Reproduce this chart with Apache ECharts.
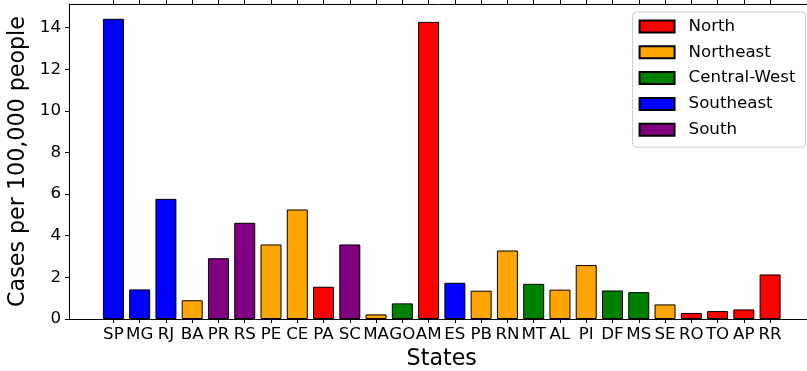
<!DOCTYPE html>
<html>
<head>
<meta charset="utf-8">
<title>Cases per 100,000 people by state</title>
<script src="https://cdn.jsdelivr.net/npm/echarts@6/dist/echarts.min.js"></script>
<style>
  html, body { margin: 0; padding: 0; background: #fff; }
  #chart { width: 807px; height: 371px; }
</style>
</head>
<body>
<div id="chart"></div>
<script>
// States in plotting order
const states = ['SP','MG','RJ','BA','PR','RS','PE','CE','PA','SC','MA','GO','AM',
                'ES','PB','RN','MT','AL','PI','DF','MS','SE','RO','TO','AP','RR'];
// Region of each state
const stateRegion = ['Southeast','Southeast','Southeast','Northeast','South','South',
                     'Northeast','Northeast','North','South','Northeast','Central-West',
                     'North','Southeast','Northeast','Northeast','Central-West','Northeast',
                     'Northeast','Central-West','Central-West','Northeast','North','North',
                     'North','North'];
// Cases per 100,000 people
const cases = [14.42, 1.42, 5.77, 0.90, 2.92, 4.62, 3.58, 5.26, 1.55, 3.58, 0.22, 0.75,
               14.27, 1.74, 1.36, 3.29, 1.69, 1.41, 2.59, 1.37, 1.29, 0.70, 0.29, 0.38,
               0.46, 2.14];
const regionNames = ['North', 'Northeast', 'Central-West', 'Southeast', 'South'];
const regionColors = ['#ff0000', '#ffa500', '#008000', '#0000ff', '#800080'];
const yTicks = [0, 2, 4, 6, 8, 10, 12, 14];

const FONT = 'DejaVu Sans';
const stateIdx = states.map((_, i) => i);

const series = regionNames.map((name, r) => ({
  name: name,
  type: 'bar',
  xAxisIndex: 0,
  yAxisIndex: 0,
  barWidth: 21,
  barGap: '-100%',
  itemStyle: { color: regionColors[r], borderColor: '#000', borderWidth: 1 },
  data: stateIdx.filter(i => stateRegion[i] === name).map(i => [i, cases[i]])
}));

const chart = echarts.init(document.getElementById('chart'), null, { renderer: 'canvas' });
chart.setOption({
  animation: false,
  backgroundColor: '#fff',
  textStyle: { fontFamily: FONT },
  grid: { left: 69, top: 4, width: 745.5, bottom: 52, containLabel: false, outerBoundsMode: 'none' },
  legend: {
    orient: 'vertical',
    right: 1.5,
    top: 12,
    data: regionNames,
    icon: 'rect',
    itemWidth: 35,
    itemHeight: 12,
    itemGap: 8.8,
    padding: [6, 10, 9, 6],
    borderColor: '#cccccc',
    borderWidth: 1,
    borderRadius: 4,
    backgroundColor: 'rgba(255,255,255,0.8)',
    textStyle: { fontFamily: FONT, fontSize: 16.67, color: '#000', lineHeight: 16, padding: [0, 0, 0, 9] }
  },
  xAxis: [{
    type: 'value',
    position: 'bottom',
    min: -1.69,
    max: 26.69,
    name: 'States',
    nameLocation: 'middle',
    nameGap: 27,
    nameTextStyle: { fontFamily: FONT, fontSize: 22.2, color: '#000' },
    axisLine: { show: true, onZero: false, lineStyle: { color: '#000', width: 1 } },
    axisTick: { show: true, inside: false, length: 4, customValues: stateIdx, lineStyle: { color: '#000' } },
    axisLabel: {
      show: true, margin: 7, fontFamily: FONT, fontSize: 16.67, color: '#000',
      customValues: stateIdx,
      formatter: v => states[Math.round(v)]
    },
    splitLine: { show: false }
  }, {
    type: 'value',
    position: 'top',
    min: -1.69,
    max: 26.69,
    axisLine: { show: true, onZero: false, lineStyle: { color: '#000', width: 1 } },
    axisTick: { show: true, inside: false, length: 4, customValues: stateIdx, lineStyle: { color: '#000' } },
    axisLabel: { show: false },
    splitLine: { show: false }
  }],
  yAxis: {
    type: 'value',
    min: 0,
    max: 15.13,
    name: 'Cases per 100,000 people',
    nameLocation: 'middle',
    nameGap: 29,
    nameTextStyle: { fontFamily: FONT, fontSize: 22.2, color: '#000' },
    axisLine: { show: true, onZero: false, lineStyle: { color: '#000', width: 1 } },
    axisTick: { show: true, inside: false, length: 4, customValues: yTicks, lineStyle: { color: '#000' } },
    axisLabel: { show: true, margin: 8, fontFamily: FONT, fontSize: 16.67, color: '#000', customValues: yTicks },
    splitLine: { show: false }
  },
  series: series
});
</script>
</body>
</html>
